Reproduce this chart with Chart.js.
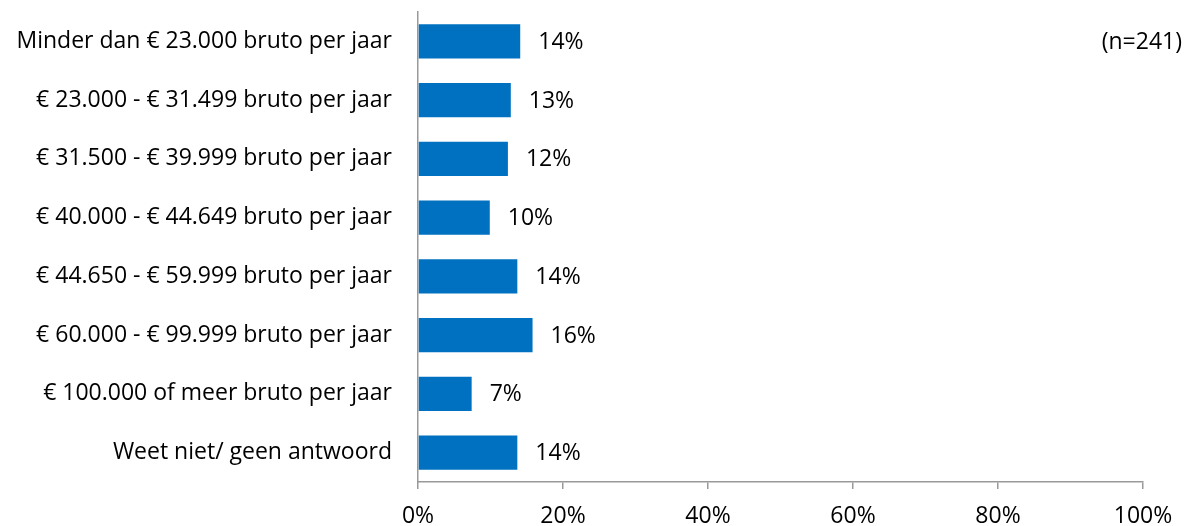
<!DOCTYPE html>
<html>
<head>
<meta charset="utf-8">
<script src="https://cdn.jsdelivr.net/npm/chart.js@4/dist/chart.umd.min.js"></script>
<style>
  html, body { margin: 0; padding: 0; background: #fff; }
  #wrap { width: 1186px; height: 526px; position: relative; }
</style>
</head>
<body>
<div id="wrap"><canvas id="c" width="1186" height="526"></canvas></div>
<script>
const categories = [
  "Minder dan € 23.000 bruto per jaar",
  "€ 23.000 - € 31.499 bruto per jaar",
  "€ 31.500 - € 39.999 bruto per jaar",
  "€ 40.000 - € 44.649 bruto per jaar",
  "€ 44.650 - € 59.999 bruto per jaar",
  "€ 60.000 - € 99.999 bruto per jaar",
  "€ 100.000 of meer bruto per jaar",
  "Weet niet/ geen antwoord"
];
const values = [14.1, 12.8, 12.4, 9.9, 13.7, 15.8, 7.4, 13.7];
const valueLabels = ["14%", "13%", "12%", "10%", "14%", "16%", "7%", "14%"];
const sampleNote = "(n=241)";
const tickValues = [0, 20, 40, 60, 80, 100];

const FONT = "'Open Sans', 'Noto Sans', sans-serif";
const FS = 23;

const labelPlugin = {
  id: 'valueLabels',
  afterDatasetsDraw(chart) {
    const ctx = chart.ctx;
    const meta = chart.getDatasetMeta(0);
    ctx.save();
    ctx.font = FS + "px " + FONT;
    ctx.fillStyle = "#000";
    ctx.textAlign = "left";
    ctx.textBaseline = "middle";
    meta.data.forEach((bar, i) => {
      ctx.fillText(valueLabels[i], bar.x + 18, bar.y + 1);
    });
    ctx.textAlign = "right";
    ctx.fillText(sampleNote, 1182, 42);
    ctx.restore();
  }
};

new Chart(document.getElementById('c'), {
  type: 'bar',
  data: {
    labels: categories,
    datasets: [{
      data: values,
      backgroundColor: '#0070C0',
      borderWidth: 0,
      barPercentage: 0.58,
      categoryPercentage: 1.0
    }]
  },
  options: {
    indexAxis: 'y',
    responsive: false,
    animation: false,
    devicePixelRatio: 1,
    layout: { padding: { top: 12, right: 43, bottom: 0, left: 0 } },
    plugins: { legend: { display: false }, tooltip: { enabled: false } },
    scales: {
      x: {
        min: 0, max: 100,
        afterFit(scale) { scale.height = 44; scale.paddingLeft = 0; scale.paddingRight = 0; },
        afterBuildTicks(scale) { scale.ticks = tickValues.map(v => ({ value: v })); },
        ticks: {
          font: { family: FONT, size: FS },
          color: '#000',
          padding: 14,
          maxRotation: 0,
          callback: v => v + '%'
        },
        grid: { drawOnChartArea: false, drawTicks: true, tickLength: 7, color: '#999', lineWidth: 1.5 },
        border: { display: true, color: '#999', width: 1.5 }
      },
      y: {
        afterFit(scale) { scale.width = 418; scale.paddingTop = 0; scale.paddingBottom = 0; },
        ticks: {
          font: { family: FONT, size: FS },
          color: '#000',
          padding: 26
        },
        grid: { drawOnChartArea: false, drawTicks: false },
        border: { display: true, color: '#999', width: 1.5 }
      }
    }
  },
  plugins: [labelPlugin]
});
</script>
</body>
</html>
